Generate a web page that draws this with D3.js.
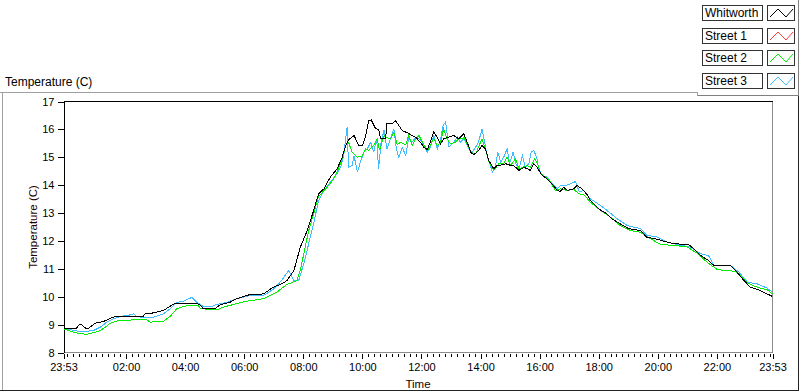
<!DOCTYPE html>
<html><head><meta charset="utf-8">
<script src="https://cdn.jsdelivr.net/npm/d3@7"></script>
<style>
html,body{margin:0;padding:0;background:#fff;}
svg{display:block;font-family:"Liberation Sans",Arial,sans-serif;}
</style></head>
<body>
<svg id="chart" width="800" height="392"></svg>
<script>
// ---- data (minutes after 23:53, temperature in C) ----
const seriesNames = ["Whitworth","Street 1","Street 2","Street 3"];
const seriesColors = ["#000000","#ff3c3c","#00ee00","#3fbcff"];

const whitworthMin = [0,26,32,37,45,51,64,81,101,115,162,166,183,203,217,227,271,278,284,308,318,338,352,379,406,426,443,454,468,481,495,508,518,529,542,556,566,573,579,590,600,607,613,620,625,634,640,644,654,657,668,674,681,688,698,705,715,725,732,739,745,752,759,766,772,782,793,803,813,820,827,833,843,850,857,864,874,881,887,898,908,914,925,935,942,948,955,962,972,982,992,1003,1009,1016,1023,1036,1043,1053,1064,1070,1087,1104,1114,1131,1148,1172,1185,1202,1219,1240,1270,1280,1294,1310,1321,1355,1368,1382,1395,1412,1422,1440];
const whitworthTemp = [8.87,8.87,8.99,8.99,8.87,8.87,9.05,9.11,9.27,9.30,9.30,9.39,9.42,9.51,9.66,9.77,9.77,9.69,9.57,9.57,9.71,9.80,9.93,10.08,10.10,10.34,10.46,10.58,10.94,11.78,12.37,13.09,13.69,13.87,14.29,14.59,15.00,15.42,15.63,15.78,15.42,15.42,15.72,16.32,16.34,16.02,16.00,15.66,15.66,16.20,16.20,16.32,16.14,15.96,15.88,15.81,15.72,15.54,15.36,15.28,15.54,15.90,15.72,15.48,15.66,15.72,15.78,15.66,15.84,15.54,15.18,15.09,15.24,15.42,15.30,14.88,14.59,14.71,14.71,14.77,14.71,14.71,14.53,14.64,14.59,14.53,14.77,14.64,14.35,14.23,14.05,13.81,13.77,13.93,13.81,13.87,13.99,13.87,13.65,13.45,13.15,12.97,12.79,12.61,12.44,12.37,12.13,12.08,11.99,11.90,11.87,11.72,11.48,11.30,11.12,11.12,10.88,10.58,10.34,10.25,10.16,10.01];

const street1Min = [];
const street1Temp = [];

const street2Min = [0,10,24,47,61,75,85,95,112,136,139,169,176,203,217,230,244,257,274,278,311,325,345,369,406,433,454,474,481,488,498,508,518,536,549,563,573,579,586,597,607,613,620,630,637,642,651,657,664,671,678,684,695,701,708,715,722,729,739,745,752,759,766,772,779,786,796,803,810,813,820,827,837,850,857,864,874,884,894,901,908,918,925,932,942,948,957,963,969,979,989,999,1009,1023,1036,1047,1057,1070,1091,1111,1131,1152,1172,1192,1213,1240,1267,1287,1307,1328,1355,1368,1389,1409,1429,1440];
const street2Temp = [8.85,8.79,8.71,8.65,8.71,8.79,8.91,9.05,9.15,9.15,9.18,9.18,9.09,9.12,9.30,9.57,9.65,9.69,9.69,9.57,9.53,9.63,9.72,9.83,9.93,10.16,10.44,10.58,10.94,11.54,12.37,12.97,13.60,13.93,14.23,14.77,15.42,15.54,15.18,15.00,15.05,15.30,15.25,15.42,15.66,15.25,15.78,15.70,15.66,15.90,15.45,15.54,15.45,15.78,15.42,15.66,15.78,15.54,15.24,15.42,15.66,15.42,15.54,16.02,15.66,15.48,15.54,15.66,15.66,15.72,15.48,15.18,15.12,15.66,15.30,14.83,14.53,14.77,14.77,15.00,14.71,14.94,14.59,14.64,14.71,14.64,14.94,14.77,14.41,14.29,14.11,13.81,13.87,13.81,13.85,13.69,13.66,13.39,13.09,12.85,12.55,12.37,12.31,12.08,11.87,11.84,11.78,11.56,11.24,10.97,10.93,10.88,10.49,10.34,10.25,10.10];

const street3Min = [0,14,27,51,61,75,88,102,115,136,142,149,166,183,203,217,230,244,261,271,284,298,311,332,352,379,406,427,443,457,468,478,488,498,508,518,529,542,556,563,569,576,579,586,590,597,603,610,617,624,630,636,640,645,651,657,664,671,676,681,688,695,701,708,715,722,729,739,745,752,759,766,771,776,783,793,800,806,813,820,823,830,837,843,850,854,861,867,871,877,882,888,894,901,906,913,920,925,932,938,945,950,955,961,965,972,982,993,1003,1009,1020,1030,1040,1047,1057,1070,1091,1104,1125,1145,1172,1185,1206,1226,1246,1273,1294,1310,1321,1355,1372,1389,1409,1429,1440];
const street3Temp = [8.85,8.82,8.77,8.77,8.79,8.91,9.09,9.21,9.29,9.35,9.39,9.29,9.24,9.27,9.39,9.57,9.80,9.84,9.98,9.80,9.65,9.63,9.72,9.80,9.93,10.04,10.04,10.28,10.58,10.94,10.58,10.60,11.18,11.90,12.61,13.45,13.81,14.11,14.41,14.65,15.06,16.08,14.65,14.70,15.06,14.47,14.83,15.18,15.30,15.54,15.18,15.66,14.59,15.54,15.96,15.30,15.66,16.02,15.30,15.00,15.36,15.06,15.66,15.54,15.72,15.66,15.54,15.18,15.36,15.78,15.30,15.66,16.14,16.26,15.36,15.54,15.72,15.54,15.66,15.42,15.30,15.18,15.36,15.54,16.02,15.66,15.00,14.71,14.47,14.65,15.18,14.83,15.00,15.30,14.77,15.18,14.71,14.59,15.06,14.65,14.77,15.18,15.24,15.00,14.59,14.35,14.29,14.05,13.87,13.99,13.99,14.05,14.13,13.78,13.80,13.51,13.27,13.09,12.79,12.55,12.44,12.20,12.14,11.96,11.87,11.78,11.54,11.48,11.12,11.12,10.88,10.52,10.46,10.31,10.16];

const majorTickMin = [0,127,247,367,487,607,727,847,967,1087,1207,1327,1440];
const majorTickLabels = ["23:53","02:00","04:00","06:00","08:00","10:00","12:00","14:00","16:00","18:00","20:00","22:00","23:53"];
const yTicks = [8,9,10,11,12,13,14,15,16,17];

// ---- drawing ----
const svg = d3.select("#chart");
const x = d3.scaleLinear().domain([0,1440]).range([63.5,772.5]);
const y = d3.scaleLinear().domain([8,17]).range([352.5,101.5]);

// outer frame
const frame = svg.append("g").attr("shape-rendering","crispEdges").attr("fill","none");
frame.append("path").attr("d","M0,92.5H697.5V95.5").attr("stroke","#a0a0a0");
frame.append("path").attr("d","M2.5,92.5V390.5").attr("stroke","#a0a0a0");
frame.append("path").attr("d","M0,390.5H798.5V95.5").attr("stroke","#222");
frame.append("path").attr("d","M698,95.5H798.5V0").attr("stroke","#808080");

// title
svg.append("text").attr("x",5).attr("y",86).attr("font-size","12px").attr("fill","#000").text("Temperature (C)");

// plot frame
const pf = svg.append("g").attr("shape-rendering","crispEdges").attr("fill","none");
pf.append("line").attr("x1",x(1440)).attr("x2",x(1440)).attr("y1",y(17)).attr("y2",y(8)).attr("stroke","#8c8c8c");
pf.append("line").attr("x1",x(0)).attr("x2",x(1440)).attr("y1",y(8)).attr("y2",y(8)).attr("stroke","#8c8c8c");
pf.append("line").attr("x1",x(0)).attr("x2",x(1440)).attr("y1",y(17)).attr("y2",y(17)).attr("stroke","#000");

// y axis
const yAxis = svg.append("g").attr("transform",`translate(${x(0)},0)`)
  .call(d3.axisLeft(y).tickValues(yTicks).tickSize(6).tickSizeOuter(0).tickPadding(3).tickFormat(d3.format("d")));
yAxis.attr("shape-rendering","crispEdges");
yAxis.select(".domain").attr("stroke","#000");
yAxis.selectAll("text").attr("font-size","11px").attr("font-family","Liberation Sans, Arial, sans-serif").attr("fill","#000");

// x axis minor ticks
const minorTicks = d3.range(7,1440,12).filter(m => !majorTickMin.includes(m));
const xMinor = svg.append("g").attr("transform","translate(0,354)")
  .call(d3.axisBottom(x).tickValues(minorTicks).tickSize(3).tickSizeOuter(0).tickFormat(""));
xMinor.select(".domain").remove();
xMinor.attr("shape-rendering","crispEdges");

const xMajor = svg.append("g").attr("transform","translate(0,354)")
  .call(d3.axisBottom(x).tickValues(majorTickMin).tickSize(5).tickSizeOuter(0).tickPadding(4)
    .tickFormat((d,i) => majorTickLabels[i]));
xMajor.select(".domain").remove();
xMajor.attr("shape-rendering","crispEdges");
xMajor.selectAll("text").attr("font-size","11px").attr("font-family","Liberation Sans, Arial, sans-serif").attr("fill","#000");

// axis titles
svg.append("text").attr("x",418).attr("y",388).attr("text-anchor","middle").attr("font-size","11.5px").attr("fill","#1a0000").text("Time");
svg.append("text").attr("transform","translate(37,227) rotate(-90)").attr("text-anchor","middle")
  .attr("font-size","11.5px").attr("fill","#1a0000").text("Temperature (C)");

// lines
const series = [
  {name:seriesNames[0], min:whitworthMin, t:whitworthTemp, color:seriesColors[0]},
  {name:seriesNames[1], min:street1Min, t:street1Temp, color:seriesColors[1]},
  {name:seriesNames[2], min:street2Min, t:street2Temp, color:seriesColors[2]},
  {name:seriesNames[3], min:street3Min, t:street3Temp, color:seriesColors[3]}
];
const line = d3.line().x(d => x(d[0])).y(d => y(d[1]));
const drawOrder = [3,2,1,0];
const lg = svg.append("g");
drawOrder.forEach(i => {
  const s = series[i];
  if (!s.min.length) return;
  const pts = s.min.map((m,k) => [m, s.t[k]]);
  lg.append("path").datum(pts).attr("d",line).attr("fill","none")
    .attr("stroke",s.color).attr("stroke-width",1).attr("shape-rendering","crispEdges");
});

// legend
const leg = svg.append("g");
series.forEach((s,i) => {
  const top = 5 + i*22.7;
  const row = leg.append("g").attr("transform",`translate(0,${Math.round(top)})`);
  row.append("rect").attr("x",702.5).attr("y",0.5).attr("width",60).attr("height",15)
    .attr("fill","#fff").attr("stroke","#333").attr("shape-rendering","crispEdges");
  row.append("text").attr("x",705).attr("y",12).attr("font-size","12px").attr("fill","#000").text(s.name);
  row.append("rect").attr("x",767.5).attr("y",0.5).attr("width",27).attr("height",15)
    .attr("fill","#fff").attr("stroke","#333").attr("shape-rendering","crispEdges");
  const zz = [[770,12],[778,4],[786,12],[793,4]];
  row.append("path").attr("d",d3.line()(zz)).attr("fill","none").attr("stroke",s.color).attr("stroke-width",1);
});
</script>
</body></html>
